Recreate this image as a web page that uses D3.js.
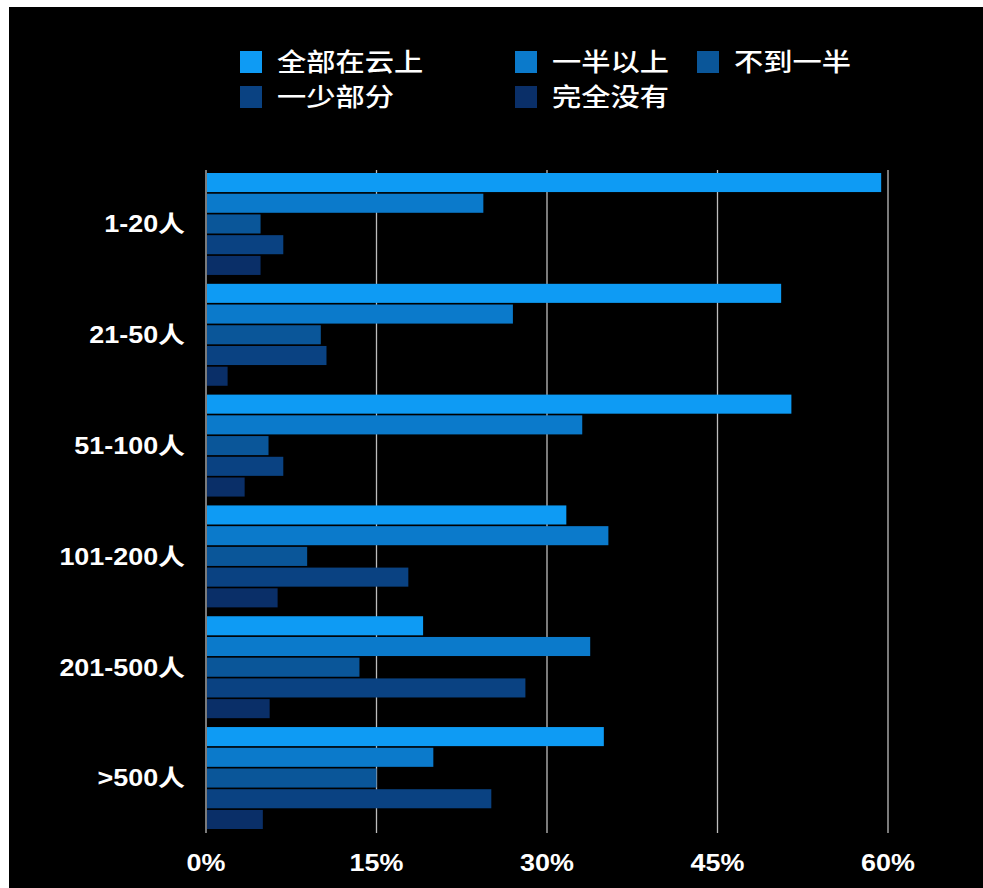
<!DOCTYPE html>
<head>
  <meta charset="utf-8">
  <script src="https://d3js.org/d3.v7.min.js"></script>
  <style>
    body { margin: 0; background: #fff; }
    svg { display: block; }
    text { font-family: "Liberation Sans", "Noto Sans CJK SC", sans-serif; fill: #fff; font-weight: 600; }
    .legend text { font-weight: 500; }
  </style>
</head>
<body>
  <svg width="983" height="888"></svg>
  <script>
    var categories = ['1-20人', '21-50人', '51-100人', '101-200人', '201-500人', '>500人'];
    var seriesNames = ['全部在云上', '一半以上', '不到一半', '一少部分', '完全没有'];
    var seriesColors = ['#0e9bf4', '#0b7acb', '#0a5699', '#0a4282', '#0a2f68'];
    // percent values per category, in series order
    var allCloud = [59.4, 50.6, 51.5, 31.7, 19.1, 35.0];
    var overHalf = [24.4, 27.0, 33.1, 35.4, 33.8, 20.0];
    var underHalf = [4.8, 10.1, 5.5, 8.9, 13.5, 15.0];
    var littlePart = [6.8, 10.6, 6.8, 17.8, 28.1, 25.1];
    var noneAtAll = [4.8, 1.9, 3.4, 6.3, 5.6, 5.0];
    var xTicks = [0, 15, 30, 45, 60];

    var seriesValues = [allCloud, overHalf, underHalf, littlePart, noneAtAll];
    var stretch = 1.17; // text in the picture is a bit wide

    var svg = d3.select('svg');
    svg.append('rect')
      .attr('x', 9).attr('y', 7)
      .attr('width', 974).attr('height', 881)
      .attr('fill', '#000');

    var x = d3.scaleLinear().domain([0, 60]).range([206, 888]);
    var y0 = d3.scaleBand().domain(categories)
      .range([173, 829]).paddingInner(0.08).paddingOuter(0);
    var y1 = d3.scaleBand().domain(d3.range(seriesNames.length))
      .range([0, y0.bandwidth()]).paddingInner(0.08);

    // grid lines
    svg.append('g').selectAll('line')
      .data(xTicks).enter().append('line')
      .attr('x1', function(d) { return x(d); })
      .attr('x2', function(d) { return x(d); })
      .attr('y1', 170).attr('y2', 833)
      .attr('stroke', '#bdbdbd')
      .attr('stroke-width', 1.3);

    var groups = svg.append('g').selectAll('g')
      .data(categories).enter().append('g')
      .attr('transform', function(d) { return 'translate(0,' + y0(d) + ')'; });

    groups.selectAll('rect')
      .data(function(d, i) {
        return seriesValues.map(function(vals, s) { return {s: s, v: vals[i]}; });
      }).enter().append('rect')
      .attr('x', x(0) + 1)
      .attr('y', function(d) { return y1(d.s); })
      .attr('height', y1.bandwidth())
      .attr('width', function(d) { return x(d.v) - x(0) - 1; })
      .attr('fill', function(d) { return seriesColors[d.s]; });

    // category labels
    svg.append('g').selectAll('text')
      .data(categories).enter().append('text')
      .attr('transform', function(d) {
        return 'translate(185,' + (y0(d) + y0.bandwidth() / 2) + ')scale(' + stretch + ',1)';
      })
      .attr('dy', '0.36em')
      .attr('text-anchor', 'end')
      .attr('font-size', 23)
      .text(function(d) { return d; });

    // x axis labels
    svg.append('g').selectAll('text')
      .data(xTicks).enter().append('text')
      .attr('transform', function(d) {
        return 'translate(' + x(d) + ',871)scale(' + stretch + ',1)';
      })
      .attr('text-anchor', 'middle')
      .attr('font-size', 23)
      .text(function(d) { return d + '%'; });

    // legend
    var legendPos = [[240, 51], [515, 51], [697, 51], [240, 86], [515, 86]];
    var legend = svg.append('g').attr('class', 'legend').selectAll('g')
      .data(seriesNames).enter().append('g')
      .attr('transform', function(d, i) { return 'translate(' + legendPos[i] + ')'; });
    legend.append('rect')
      .attr('width', 22).attr('height', 22)
      .attr('fill', function(d, i) { return seriesColors[i]; });
    legend.append('text')
      .attr('transform', 'translate(37,11)scale(' + stretch + ',1)')
      .attr('dy', '0.36em')
      .attr('font-size', 25)
      .text(function(d) { return d; });
  </script>
</body>
